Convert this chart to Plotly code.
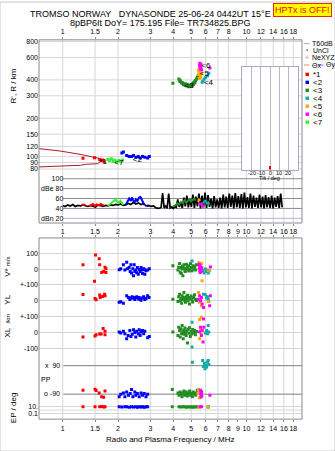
import math
import plotly.graph_objects as go

W, H = 335, 451
FONT = "Liberation Sans, Arial, sans-serif"

# ---------------- tick / label data ----------------
FREQ_TICKS_TOP = [1, 1.5, 2, 3, 4, 5, 6, 7, 8, 10, 12, 14, 16, 18]
FREQ_TEXT_TOP = ["1", "1.5", "2", "3", "4", "5", "6", "7", "8", "10", "12", "14", "16", "18"]
FREQ_TICKS_BOT = [1, 1.5, 2, 3, 4, 5, 6, 7, 8, 9, 10, 12, 14, 16, 18]
FREQ_TEXT_BOT = ["1", "1.5", "2", "3", "4", "5", "6", "7", "8", "9", "10", "12", "14", "16", "18"]
RH_TICKS = [80, 90, 100, 120, 150, 200, 300, 400, 600, 800]
DBE_TICKS = [20, 40, 60, 80, 100]
DBE_TEXT = ["dBn 20", "40", "60", "dBe 80", "100"]
DBE_LINE_COLORS = ["#b4b4e8", "#8c8c8c", "#8c8c8c", "#8c8c8c", "#8c8c8c"]
VEL_TICKS = [100, 0, -100]
VEL_TEXT = ["100", "0", "+-100"]
YL_TICKS = [0, -100]
YL_TEXT = ["0", "+-100"]
XL_TICKS = [0, -100]
XL_TEXT = ["0", "-100"]
EPL_TICKS = [10, 0.1]
EPL_TEXT = ["10.", "0.1"]
TILT_TICKS = [-20, -10, 0, 10, 20]

# ---------------- D/E-region model lines (R') ----------------
LINE_UP_F = [0.743, 0.966, 1.269, 1.50, 1.596]
LINE_UP_H = [115.5, 110.7, 103.7, 99.3, 96.5]
LINE_LO_F = [0.743, 1.0, 1.25, 1.33, 1.55, 1.60]
LINE_LO_H = [83, 84, 85.5, 87, 88, 91]

# ---------------- black amplitude trace (dBe) ----------------
AMP_F = [1.000, 1.032, 1.065, 1.099, 1.135, 1.171, 1.209, 1.248, 1.288, 1.329,
         1.372, 1.416, 1.462, 1.509, 1.557, 1.607, 1.659, 1.712, 1.767, 1.824,
         1.882, 1.943, 2.005, 2.070, 2.136, 2.205, 2.276, 2.349, 2.424, 2.502,
         2.583, 2.666, 2.751, 2.840, 2.931, 3.025, 3.122, 3.223, 3.326,
         3.433, 3.499, 3.566, 3.634, 3.704, 3.775, 3.847, 3.921, 3.996, 4.073,
         4.151, 4.230, 4.311, 4.394, 4.478, 4.564, 4.651, 4.740, 4.831, 4.924,
         5.018, 5.114, 5.212, 5.312, 5.414, 5.518, 5.624, 5.732, 5.842, 5.954,
         6.068, 6.184, 6.303, 6.424, 6.547, 6.672, 6.800, 6.930, 7.063, 7.198,
         7.336, 7.477, 7.620, 7.766, 7.915, 8.067, 8.221, 8.379, 8.539, 8.703,
         8.870, 9.040, 9.213, 9.390, 9.570, 9.753, 9.940, 10.13, 10.32, 10.52,
         10.72, 10.93, 11.14, 11.35, 11.57, 11.79, 12.02, 12.25, 12.48, 12.72,
         12.96, 13.21, 13.46, 13.72, 13.98, 14.25, 14.52, 14.80, 15.08, 15.37, 15.66]
AMP_DB = [46, 44, 47, 45, 48, 44, 46, 45, 47, 46,
          44, 46, 45, 43, 47, 45, 44, 46, 45, 47,
          46, 48, 47, 49, 46, 47, 50, 48, 52, 49,
          51, 48, 50, 45, 46, 44, 45, 41, 40,
          42, 71, 41, 45, 40, 70, 41, 43, 40, 44,
          42, 58, 43, 52, 41, 62, 44, 66, 42, 60,
          43, 68, 41, 64, 44, 70, 40, 66, 42, 72,
          41, 67, 43, 60, 40, 65, 42, 58, 41, 62,
          40, 68, 42, 64, 41, 70, 43, 66, 40, 71,
          42, 65, 41, 69, 40, 72, 42, 63, 41, 70,
          40, 66, 43, 62, 41, 68, 42, 64, 40, 67,
          42, 63, 41, 66, 40, 62, 43, 65, 41, 70, 42]

# ---------------- echo 1 (red) ----------------
E1_RF = [1.29, 1.49, 1.59, 1.62, 1.65, 1.68]
E1_RH = [97, 98, 95, 93, 94, 91]
E1_AF = [1.27, 1.30, 1.33, None, 1.39, 1.42, 1.46, 1.50, 1.53, 1.57, 1.61, 1.65, 1.68]
E1_AD = [48, 47, 48, None, 44, 47, 49, 45, 48, 46, 49, 47, 45]
E1_VF = [1.29, 1.51, 1.58, 1.59, 1.70, 1.72, 1.63, 1.67, 1.72, 1.49]
E1_V = [27, 89, 66, 27, 12, 2, -21, -15, -21, -77]
E1_YF = [1.29, 1.50, 1.52, 1.59, 1.60, 1.65, 1.69, 1.70]
E1_Y = [39, 14, 6, 36, 21, 27, 42, 31]
E1_XF = [1.29, 1.50, 1.52, 1.59, 1.62, 1.66, 1.70, 1.70]
E1_X = [-29, -23, -14, -10, -10, 25, 8, -14]
E1_PF = [1.29, 1.50, 1.52, 1.58, 1.63, 1.67, 1.70]
E1_P = [-65, -59, -67, -82, -107, -109, -70]
E1_LF = [1.29, 1.50, 1.59, 1.63, 1.67, 1.70]
E1_L = [11, 11, 10, 12, 9, 10]

# ---------------- echo 2 (blue) ----------------
E2_RF = [2.10, 2.14, 2.23, 2.30, 2.37, 2.43, 2.50, 2.58, 2.64, 2.72, 2.80, 2.90, 2.96]
E2_RH = [106.7, 108.6, 101.8, 100, 100, 101.8, 98.7, 100, 97.5, 100, 98.7, 97.5, 100]
E2_AF = [2.21, 2.25, 2.30, 2.35, 2.38, 2.42, 2.46, 2.50, 2.55, 2.60, 2.65, 2.70, 2.75, 2.78, None, 2.88, 2.93]
E2_AD = [48, 53, 60, 55, 62, 56, 52, 58, 54, 62, 63, 57, 50, 47, None, 44, 46]
E2_VF = [2.03, 2.07, 2.14, 2.18, 2.23, 2.25, 2.30, 2.33, 2.35, 2.37, 2.41, 2.43, 2.45, 2.47, 2.50,
         2.53, 2.55, 2.58, 2.61, 2.64, 2.67, 2.70, 2.72, 2.76, 2.78, 2.80, 2.84, 2.90, 2.96]
E2_V = [-4, 2, 27, -6, 44, 2, 10, -15, 27, -25, 2, -42, 27, -15, -6,
        -23, 10, -32, -2, -15, 10, -6, -27, 2, -2, -32, -10, -6, 2]
E2_YF = [2.03, 2.07, 2.14, 2.23, 2.28, 2.32, 2.35, 2.39, 2.41, 2.43, 2.47, 2.50, 2.53, 2.58,
         2.61, 2.64, 2.67, 2.72, 2.76, 2.80, 2.84, 2.90, 2.95]
E2_Y = [-10, -6, -15, 31, 21, 8, 17, 25, 19, 17, 8, 21, 25, 12, 21, 10, 4, 17, 25, 8, 14, 31, 21]
E2_XF = [2.03, 2.07, 2.14, 2.18, 2.23, 2.27, 2.32, 2.35, 2.39, 2.43, 2.47, 2.50, 2.53, 2.58,
         2.61, 2.64, 2.67, 2.72, 2.76, 2.80, 2.90, 2.96]
E2_X = [2, -4, 8, -8, -40, -19, 12, -25, -12, 17, 0, -29, 8, -8, 17, -19, 2, 12, -8, 8, -33, -25]
E2_PF = [2.03, 2.07, 2.14, 2.18, 2.23, 2.28, 2.33, 2.37, 2.41, 2.47, 2.50, 2.55, 2.61, 2.67,
         2.72, 2.78, 2.84, 2.90]
E2_P = [-107, -91, -82, -107, -76, -97, -86, -61, -107, -76, -97, -86, -107, -82, -97, -86, -107, -91]
E2_LF = [2.03, 2.10, 2.18, 2.23, 2.30, 2.37, 2.43, 2.50, 2.55, 2.61, 2.67, 2.72, 2.78, 2.84, 2.90]
E2_L = [10, 9, 11, 10, 8, 10, 9, 11, 8, 10, 9, 10, 8, 10, 11]

# ---------------- echo 3 (dark green) ----------------
E3_RF = [3.98, 4.29, 4.33, 4.37, 4.42, 4.47, 4.51, 4.56, 4.61, 4.66, 4.71, 4.76, 4.81, 4.86,
         4.91, 4.97, 5.02, 5.08, 5.13, 5.18, 5.23, 5.29, 5.35, 5.40, 5.46,
         4.35, 4.45, 4.55, 4.65, 4.75, 4.85, 4.95, 5.05, 5.15, 5.25]
E3_RH = [376, 407, 398, 392, 383, 380, 376, 372, 369, 371, 369, 366, 365, 362,
         360, 362, 365, 370, 376, 381, 387, 396, 407, 418, 431,
         388, 378, 366, 362, 358, 354, 355, 358, 368, 380]
E3_AF = [3.98, 4.10, 4.20, 4.30, 4.40, 4.50, 4.60, 4.70, 4.80, 4.90, 5.00, 5.10, 5.20, 5.30]
E3_AD = [44, 46, 50, 48, 53, 51, 56, 52, 55, 58, 54, 57, 60, 56]
E3_VF = [3.98, 4.24, 4.28, 4.33, 4.36, 4.38, 4.42, 4.46, 4.49, 4.51, 4.55, 4.57, 4.61, 4.63, 4.65,
         4.71, 4.74, 4.77, 4.81, 4.84, 4.88, 4.91, 4.97, 5.02, 5.06, 5.13, 5.19, 5.23, 5.30, 5.35]
E3_V = [21, -6, 12, 35, -20, 10, -27, 0, 18, -42, 6, 27, 6, -10, -15,
        31, 4, 14, -6, 21, -12, 0, 35, 10, -10, 21, 0, 14, -6, 27]
E3_YF = [3.98, 4.24, 4.28, 4.33, 4.36, 4.40, 4.44, 4.47, 4.50, 4.53, 4.57, 4.60, 4.63, 4.66,
         4.70, 4.74, 4.78, 4.82, 4.86, 4.90, 4.95, 5.00, 5.05, 5.10, 5.16, 5.22, 5.28, 5.35]
E3_Y = [10, -5, 25, 42, 0, 15, -15, 31, 8, 21, 52, 4, 18, -10, 26, 12, 35, 0, 21, -21,
        14, 30, 6, -8, 20, 38, 10, 2]
E3_XF = [3.98, 4.24, 4.28, 4.33, 4.36, 4.40, 4.44, 4.47, 4.50, 4.53, 4.57, 4.60, 4.63, 4.66,
         4.70, 4.74, 4.78, 4.82, 4.86, 4.90, 4.95, 5.00, 5.05, 5.10, 5.16, 5.22, 5.28, 5.35]
E3_X = [2, -20, 33, 12, -29, 23, -8, 44, 5, -40, 15, -12, 28, 0, -19, 10, -67, 20, -5, 30,
        -25, 8, -10, 18, -2, 12, -15, 6]
E3_PF = [3.95, 4.24, 4.30, 4.36, 4.42, 4.46, 4.51, 4.57, 4.61, 4.65, 4.71, 4.77, 4.81, 4.86,
         4.91, 4.97, 5.02, 5.08, 5.13, 5.19, 5.25, 5.30, 5.35, 5.40]
E3_P = [-61, -82, -97, -76, -91, -107, -82, -70, -97, -86, -76, -102, -91, -82,
        -70, -97, -86, -107, -76, -91, -82, -97, -86, -65]
E3_LF = [3.95, 4.30, 4.40, 4.50, 4.60, 4.70, 4.80, 4.90, 5.00, 5.10, 5.20, 5.30, 5.40]
E3_L = [10, 10, 9, 11, 10, 8, 10, 9, 11, 8, 10, 9, 10]

# ---------------- echo 4 (cyan) ----------------
E4_RF = [5.74, 5.81, 5.89, 6.00, 6.14, 6.24]
E4_RH = [383, 392, 407, 417, 432, 450]
E4_AF = [5.80, 5.90, 6.00, 6.10, 6.20, 6.30]
E4_AD = [50, 55, 56, 50, 52, 48]
E4_VF = [5.06, 5.81, 5.89, 5.98, 6.07, 6.14, 6.20, 6.27]
E4_V = [52, -10, -25, 0, -15, -6, -25, -10]
E4_YF = [5.84, 5.98, 6.14, 6.20, 6.07, 6.24]
E4_Y = [42, 38, 25, 10, 17, -4]
E4_XF = [5.06, 6.20, 6.07, 6.24, 6.14, 5.98, 5.06]
E4_X = [65, 44, 12, 2, -8, -4, -92]
E4_PF = [5.08, 5.78, 5.91, 6.00, 5.83, 6.14, 6.24, 5.95, 6.07, 6.20]
E4_P = [111, 123, 106, 92, 85, 113, 98, 71, 81, 123]
E4_LF = [6.18, 6.22]
E4_L = [9, 11]

# ---------------- echo 5 (orange) ----------------
E5_RF = [5.49, 5.52, 5.56, 5.50, 5.60, 5.64, 5.54, 5.70]
E5_RH = [478, 462, 450, 440, 430, 420, 411, 455]
E5_AF = [5.45, 5.52, 5.60]
E5_AD = [53, 58, 55]
E5_VF = [5.52, 5.69, 5.58, 5.62, 6.20, 5.74]
E5_V = [41, 35, 14, -6, -10, -73]
E5_YF = [5.49, 5.63, 5.56, 5.69, 6.20]
E5_Y = [52, 10, -10, -31, -4]
E5_XF = [5.69, 5.56, 5.63, 5.69, 5.56]
E5_X = [96, 81, 17, -12, -40]
E5_PF = [5.49, 5.56, 5.45]
E5_P = [-61, -112, -86]
E5_LF = [5.52, 6.20]
E5_L = [8, 9]

# ---------------- echo 6 (magenta) ----------------
E6_RF = [5.58, 5.62, 5.58, 5.65, 5.60, 5.70, 5.56, 5.66, 6.33]
E6_RH = [540, 525, 510, 500, 490, 480, 520, 530, 495]
E6_AF = [5.50, 5.60, 5.70, 5.80, 5.90]
E6_AD = [52, 48, 50, 44, 46]
E6_VF = [5.52, 5.56, 5.60, 5.64, 5.55, 5.62, 5.68, 5.58, 5.66, 5.72, 5.60, 6.37]
E6_V = [31, 25, 20, 12, 6, 2, -4, -10, -15, 8, -21, 14]
E6_YF = [5.56, 5.69, 5.63, 5.75, 5.84, 6.37, 6.31, 5.49]
E6_Y = [31, 21, 0, -21, -42, 31, -31, 10]
E6_XF = [5.84, 5.63, 5.75, 5.69, 5.81, 5.87, 5.56]
E6_X = [85, 33, 12, -19, -60, 33, 2]
E6_PF = [5.62, 5.66, 5.70, 5.64, 5.68, 5.72, 5.66, 5.70, 6.33]
E6_P = [-65, -72, -80, -88, -95, -102, -108, -76, -97]
E6_LF = [5.60, 5.70]
E6_L = [10, 10]

# ---------------- echo 7 (lime) ----------------
E7_RF = [1.76, 1.80, 1.84, 1.88, 1.92, 1.97, 2.02, 2.07, 2.12]
E7_RH = [95, 93, 96, 92, 94, 91, 93, 92, 94]
E7_AF = [1.76, 1.80, 1.85, 1.90, 1.94, 1.98, 2.02, 2.06, 2.10, 2.14]
E7_AD = [45, 48, 52, 56, 58, 54, 51, 55, 50, 47]

# echo labels in the R' panel
ECHO_NAMES = ["*1", "<2", "<3", "<4", "<5", "<6", "<7"]
ECHO_COLORS = ["#ff0000", "#0000ff", "#228b22", "#10aaaa", "#ffa500", "#ff00ff", "#33ee33"]
LABEL_F = [1.66, 2.55, 4.88, 6.22, 5.90, 6.02, 2.02]
LABEL_H = [90, 94, 358, 378, 441, 515, 89]

# tilt inset
TILT_DEG = [0]
TILT_CNT = [3]

# ---------------- geometry (pixels) ----------------
def px(x):
    return x / W

def py(y):
    return 1 - y / H

PLOT_L, PLOT_R = 39, 302
TOP_T, RH_B, DBE_B = 38, 172, 222
MID_T, MID_B = 237, 419
LBL_X = 63.3
X_RANGE = [-0.129, 1.3027]
RH_RANGE = [1.8695, 2.9164]
DBE_RANGE = [10.55, 111.05]
MID_RANGE = [-947.8, 196.9]
V_OFF, YL_OFF, XL_OFF, EP_OFF = 0, -200, -400, -700
EPL_BASE, EPL_SCALE = -870, 20.75


def epl(v):
    return EPL_BASE + EPL_SCALE * math.log10(v / 10.0)


fig = go.Figure()

# R' panel model lines
for f, h in ((LINE_UP_F, LINE_UP_H), (LINE_LO_F, LINE_LO_H)):
    fig.add_trace(go.Scatter(x=f, y=h, mode="lines", line=dict(color="#b01830", width=1),
                             xaxis="x", yaxis="y", hoverinfo="skip"))

# black amplitude
fig.add_trace(go.Scatter(x=AMP_F, y=AMP_DB, mode="lines", line=dict(color="black", width=1.7),
                         xaxis="x2", yaxis="y2", hoverinfo="skip"))

R_F = [E1_RF, E2_RF, E3_RF, E4_RF, E5_RF, E6_RF, E7_RF]
R_H = [E1_RH, E2_RH, E3_RH, E4_RH, E5_RH, E6_RH, E7_RH]
A_F = [E1_AF, E2_AF, E3_AF, E4_AF, E5_AF, E6_AF, E7_AF]
A_D = [E1_AD, E2_AD, E3_AD, E4_AD, E5_AD, E6_AD, E7_AD]
MIDS = [
    (E1_VF, E1_V, E1_YF, E1_Y, E1_XF, E1_X, E1_PF, E1_P, E1_LF, E1_L),
    (E2_VF, E2_V, E2_YF, E2_Y, E2_XF, E2_X, E2_PF, E2_P, E2_LF, E2_L),
    (E3_VF, E3_V, E3_YF, E3_Y, E3_XF, E3_X, E3_PF, E3_P, E3_LF, E3_L),
    (E4_VF, E4_V, E4_YF, E4_Y, E4_XF, E4_X, E4_PF, E4_P, E4_LF, E4_L),
    (E5_VF, E5_V, E5_YF, E5_Y, E5_XF, E5_X, E5_PF, E5_P, E5_LF, E5_L),
    (E6_VF, E6_V, E6_YF, E6_Y, E6_XF, E6_X, E6_PF, E6_P, E6_LF, E6_L),
    None,
]

for i, col in enumerate(ECHO_COLORS):
    fig.add_trace(go.Scatter(x=A_F[i], y=A_D[i], mode="lines", line=dict(color=col, width=2),
                             xaxis="x2", yaxis="y2", hoverinfo="skip"))
for i, col in enumerate(ECHO_COLORS):
    fig.add_trace(go.Scatter(x=R_F[i], y=R_H[i], mode="markers",
                             marker=dict(symbol="square", size=3, color=col, line=dict(width=0)),
                             xaxis="x", yaxis="y", hoverinfo="skip"))
    m = MIDS[i]
    if m is None:
        continue
    vf, v, yf, yl, xf, xl, pf, pp, lf, ll = m
    xs = list(vf) + list(yf) + list(xf) + list(pf) + list(lf)
    ys = ([a + V_OFF for a in v] + [a + YL_OFF for a in yl] + [a + XL_OFF for a in xl]
          + [a + EP_OFF for a in pp] + [epl(a) for a in ll])
    fig.add_trace(go.Scatter(x=xs, y=ys, mode="markers",
                             marker=dict(symbol="square", size=3, color=col, line=dict(width=0)),
                             xaxis="x3", yaxis="y3", hoverinfo="skip"))

fig.add_trace(go.Scatter(x=LABEL_F, y=LABEL_H, mode="text",
                         text=[n.replace("<", "&lt;") for n in ECHO_NAMES],
                         textfont=dict(size=8, color="black", family=FONT),
                         textposition="middle center", xaxis="x", yaxis="y", hoverinfo="skip"))

fig.add_trace(go.Bar(x=TILT_DEG, y=TILT_CNT, width=1.2, marker=dict(color="#ff0000", line=dict(width=0)),
                     xaxis="x4", yaxis="y4", hoverinfo="skip"))

TF = dict(size=7, family=FONT, color="black")
xcommon = dict(type="log", range=X_RANGE, domain=[px(PLOT_L), px(PLOT_R)], showgrid=False,
               zeroline=False, showline=False, ticks="outside", ticklen=2, tickcolor="#888888",
               tickfont=TF, tickangle=0, fixedrange=True)

shapes = []
GRID = "#d6d6d6"
# top section vertical grid
for f in FREQ_TICKS_TOP:
    shapes.append(dict(type="line", xref="x", yref="paper", x0=f, x1=f, y0=py(DBE_B), y1=py(TOP_T),
                       line=dict(color=GRID, width=1), layer="below"))
# R' horizontal grid
for h in RH_TICKS:
    shapes.append(dict(type="line", xref="paper", yref="y", x0=px(PLOT_L), x1=px(PLOT_R), y0=h, y1=h,
                       line=dict(color=GRID, width=1), layer="below"))
# dBe lines
for d, c in zip(DBE_TICKS, DBE_LINE_COLORS):
    shapes.append(dict(type="line", xref="paper", yref="y2", x0=px(LBL_X), x1=px(PLOT_R), y0=d, y1=d,
                       line=dict(color=c, width=1), layer="below"))
# middle vertical grid
for f in FREQ_TICKS_TOP:
    shapes.append(dict(type="line", xref="x3", yref="paper", x0=f, x1=f, y0=py(MID_B), y1=py(MID_T),
                       line=dict(color=GRID, width=1), layer="below"))
# EP lines
for e in (90, -90):
    shapes.append(dict(type="line", xref="paper", yref="y3", x0=px(LBL_X), x1=px(PLOT_R),
                       y0=e + EP_OFF, y1=e + EP_OFF, line=dict(color="#808080", width=1), layer="below"))
shapes.append(dict(type="line", xref="paper", yref="y3", x0=px(PLOT_L), x1=px(PLOT_R),
                   y0=epl(1), y1=epl(1), line=dict(color=GRID, width=1), layer="below"))
# inset background
shapes.append(dict(type="rect", xref="paper", yref="paper", x0=px(242.3), x1=px(297.7),
                   y0=py(168.3), y1=py(65), fillcolor="white", line=dict(width=0), layer="below"))
# frames
for t, b in ((TOP_T, DBE_B), (MID_T, MID_B)):
    shapes.append(dict(type="rect", xref="paper", yref="paper", x0=px(PLOT_L), x1=px(PLOT_R),
                       y0=py(b), y1=py(t), line=dict(color="#8a8a8a", width=1), layer="above"))
shapes.append(dict(type="rect", xref="paper", yref="paper", x0=0, x1=1, y0=0, y1=1,
                   line=dict(color="#c8c8c8", width=1), layer="above"))

annotations = []

def ann(text, x, y, size=8, xanchor="center", yanchor="middle", angle=0, color="black", **kw):
    annotations.append(dict(text=text, x=px(x), y=py(y), xref="paper", yref="paper",
                            showarrow=False, xanchor=xanchor, yanchor=yanchor, textangle=angle,
                            font=dict(size=size, family=FONT, color=color), **kw))

ann("TROMSO NORWAY   DYNASONDE 25-06-24 0442UT 15°E", 150, 12, size=9)
ann("8pBP6It DoY= 175.195 File= TR734825.BPG", 160, 21, size=9)
ann("HPTx is OFF!", 302.5, 8.3, size=9, color="#ff0000", bgcolor="#ffff00",
    bordercolor="#e03000", borderwidth=1, borderpad=1)
ann("R', R / km", 13.3, 84.5, angle=-90)
ann("V* <span style='font-size:6px'>m/s</span>", 8, 266, angle=-90)
ann("YL", 8, 299, angle=-90)
ann("/km", 8, 318, size=6, angle=-90)
ann("XL", 8, 332, angle=-90)
ann("EP / deg", 13, 408, angle=-90)
ann("PP", 46, 379, size=7)
ann("x  90", 62, 365, size=7, xanchor="right")
ann("o -90", 62, 393.3, size=7, xanchor="right")
ann("Radio and Plasma Frequency / MHz", 170.8, 439)
ann("Tilt / deg", 269.5, 176.3, size=5.5)
# tilt inset tick labels
for t in TILT_TICKS:
    annotations.append(dict(text=str(t), x=t, y=py(171.3), xref="x4", yref="paper", showarrow=False,
                            xanchor="center", yanchor="middle",
                            font=dict(size=5.5, family=FONT, color="black")))

# legend
LEG_T = 311
LF = 7
shapes.append(dict(type="line", xref="paper", yref="paper", x0=px(304), x1=px(309.5),
                   y0=py(41.7), y1=py(41.7), line=dict(color="#b0b0b0", width=1)))
ann("T60dB", LEG_T - 1, 41.7, size=LF, xanchor="left")
shapes.append(dict(type="rect", xref="paper", yref="paper", x0=px(306.5), x1=px(307.7),
                   y0=py(48.9), y1=py(47.7), fillcolor="black", line=dict(width=0)))
ann("UnCl", LEG_T, 48.3, size=LF, xanchor="left")
ann("+", 307, 55.3, size=LF, color="#ff7090")
ann("NeXYZ", LEG_T - 1, 55.3, size=LF, xanchor="left")
shapes.append(dict(type="line", xref="paper", yref="paper", x0=px(304), x1=px(309.5),
                   y0=py(63.3), y1=py(63.3), line=dict(color="#ff8080", width=1)))
ann("Θx", 309.5, 63.3, size=LF, xanchor="left")
shapes.append(dict(type="line", xref="paper", yref="paper", x0=px(318), x1=px(323.5),
                   y0=py(63.3), y1=py(63.3), line=dict(color="#8080ff", width=1)))
ann("Θy", 323.5, 63.3, size=LF, xanchor="left")
for k, (name, col) in enumerate(zip(ECHO_NAMES, ECHO_COLORS)):
    yc = 72.7 + 8 * k
    shapes.append(dict(type="rect", xref="paper", yref="paper", x0=px(305.5), x1=px(309),
                       y0=py(yc + 1.7), y1=py(yc - 1.7), fillcolor=col, line=dict(width=0)))
    ann(name.replace("<", "&lt;"), LEG_T, yc, size=8, xanchor="left")

fig.update_layout(
    width=W, height=H, margin=dict(l=0, r=0, t=0, b=0), autosize=False,
    paper_bgcolor="white", plot_bgcolor="white", showlegend=False,
    font=dict(family=FONT, size=8, color="black"),
    xaxis=dict(**xcommon, anchor="y", side="top", tickvals=FREQ_TICKS_TOP, ticktext=FREQ_TEXT_TOP),
    xaxis2=dict(**xcommon, anchor="y2", side="bottom", tickvals=FREQ_TICKS_BOT, ticktext=FREQ_TEXT_BOT),
    xaxis3=dict(**xcommon, anchor="y3", side="bottom", tickvals=FREQ_TICKS_BOT, ticktext=FREQ_TEXT_BOT,
                mirror="ticks"),
    yaxis=dict(type="log", range=RH_RANGE, domain=[py(RH_B), py(TOP_T)], anchor="x",
               tickvals=RH_TICKS, ticktext=[str(t) for t in RH_TICKS], showgrid=False,
               zeroline=False, showline=False, ticks="", tickfont=TF, fixedrange=True),
    yaxis2=dict(range=DBE_RANGE, domain=[py(DBE_B), py(RH_B)], anchor="free", position=px(LBL_X),
                tickvals=DBE_TICKS, ticktext=DBE_TEXT, showgrid=False, zeroline=False,
                showline=False, ticks="", tickfont=TF, fixedrange=True),
    yaxis3=dict(range=MID_RANGE, domain=[py(MID_B), py(MID_T)], anchor="x3",
                tickvals=[t + V_OFF for t in VEL_TICKS] + [t + YL_OFF for t in YL_TICKS]
                + [t + XL_OFF for t in XL_TICKS] + [epl(t) for t in EPL_TICKS],
                ticktext=VEL_TEXT + YL_TEXT + XL_TEXT + EPL_TEXT,
                showgrid=True, gridcolor=GRID, gridwidth=1, zeroline=False, showline=False,
                ticks="", tickfont=TF, fixedrange=True),
    xaxis4=dict(range=[-30, 30], domain=[px(242.3), px(297.7)], anchor="y4",
                tickvals=TILT_TICKS, showticklabels=False,
                showgrid=True, gridcolor="#b8b8d0", zeroline=False, showline=True, mirror=True,
                linecolor="#a8a8c0", ticks="", fixedrange=True),
    yaxis4=dict(range=[0, 100], domain=[py(168.3), py(65)], anchor="x4", showticklabels=False,
                showgrid=False, zeroline=False, showline=True, mirror=True, linecolor="#a8a8c0",
                ticks="", fixedrange=True),
    shapes=shapes, annotations=annotations, bargap=0,
)

fig.write_html("out.html", config={"displayModeBar": False, "staticPlot": True})
